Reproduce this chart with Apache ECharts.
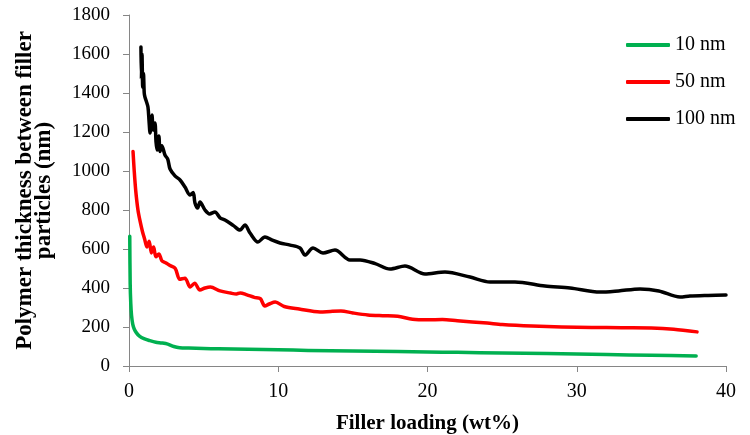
<!DOCTYPE html>
<html>
<head>
<meta charset="utf-8">
<script src="https://cdn.jsdelivr.net/npm/echarts@6/dist/echarts.min.js"></script>
<style>
  html, body { margin: 0; padding: 0; background: #fff; }
  #chart { width: 750px; height: 435px; }
</style>
</head>
<body>
<div id="chart"></div>
<script>
// Polymer thickness between filler particles vs filler loading, per particle size
const seriesNames = ['10 nm', '50 nm', '100 nm'];
const xTicks = [0, 10, 20, 30, 40];
const yTicks = [0, 200, 400, 600, 800, 1000, 1200, 1400, 1600, 1800];

const load10 = [0.05, 0.08, 0.12, 0.17, 0.25, 0.35, 0.5, 0.7, 1.0, 1.4, 1.8, 2.2, 2.6, 3.0, 3.4, 4, 5, 6, 8, 10, 12, 15, 18, 20, 22, 25, 28, 30, 32, 35, 38];
const thick10 = [665, 420, 320, 260, 215, 190, 170, 153, 140, 130, 122, 118, 112, 100, 94, 92, 90, 88, 86, 83, 80, 77, 74, 72, 70, 67, 64, 61, 59, 55, 51];

const load50 = [0.27, 0.35, 0.45, 0.6, 0.75, 0.9, 1.05, 1.2, 1.35, 1.5, 1.65, 1.8, 2.0, 2.2, 2.45, 2.75, 3.1, 3.4, 3.75, 4.1, 4.4, 4.75, 5.1, 5.45, 6.1, 6.8, 7.2, 7.45, 7.9, 8.4, 8.8, 9.1, 9.4, 9.8, 10.4, 11.4, 12.8, 13.5, 14.2, 15, 16, 17, 18, 19, 20, 21, 22, 24, 25, 27, 29, 31, 33, 35, 36.5, 38.06];
const thick50 = [1100, 1000, 900, 800, 740, 690, 650, 610, 640, 580, 610, 560, 575, 540, 530, 515, 500, 445, 450, 405, 425, 390, 400, 405, 385, 374, 369, 375, 365, 352, 345, 308, 318, 328, 305, 292, 277, 280, 282, 272, 262, 258, 255, 240, 237, 238, 232, 220, 213, 205, 200, 198, 196, 195, 189, 175];

const load100 = [0.8, 0.83, 0.87, 0.92, 0.97, 1.02, 1.07, 1.15, 1.27, 1.34, 1.41, 1.48, 1.54, 1.62, 1.74, 1.81, 1.88, 2.0, 2.08, 2.2, 2.41, 2.6, 2.75, 3.08, 3.42, 3.75, 4.09, 4.3, 4.42, 4.6, 4.76, 5.09, 5.4, 5.76, 6.1, 6.43, 7.0, 7.44, 7.77, 8.11, 8.64, 9.11, 9.6, 10.12, 10.8, 11.46, 11.79, 12.33, 13.0, 13.8, 14.8, 15.48, 16.5, 17.49, 18.49, 19.83, 21.17, 22.85, 24.19, 25.86, 27.87, 29.55, 31.56, 32.8, 34.24, 35.5, 36.92, 37.59, 38.8, 40];
const thick100 = [1636, 1470, 1600, 1430, 1500, 1400, 1379, 1360, 1328, 1260, 1195, 1250, 1287, 1210, 1246, 1150, 1108, 1180, 1100, 1130, 1082, 1060, 1010, 975, 954, 918, 877, 890, 836, 810, 841, 800, 780, 790, 760, 749, 720, 697, 723, 682, 636, 662, 645, 631, 620, 605, 569, 605, 579, 595, 544, 544, 525, 497, 513, 472, 482, 456, 431, 431, 410, 400, 379, 385, 395, 385, 354, 359, 362, 364];

const colors = ['#00B050', '#FF0000', '#000000'];
const serif = 'Liberation Serif';
const axisGray = '#868686';

function pairs(xs, ys) { return xs.map((x, i) => [x, ys[i]]); }
const seriesData = [pairs(load10, thick10), pairs(load50, thick50), pairs(load100, thick100)];

const chart = echarts.init(document.getElementById('chart'), null, { renderer: 'canvas' });
chart.setOption({
  animation: false,
  backgroundColor: '#ffffff',
  grid: { left: 129, right: 24, top: 15, bottom: 69, containLabel: false, outerBoundsMode: 'none' },
  legend: {
    orient: 'vertical',
    left: 626,
    top: 35,
    padding: 0,
    itemGap: 17,
    itemWidth: 44,
    itemHeight: 4,
    icon: 'roundRect',
    data: seriesNames,
    textStyle: { fontFamily: serif, fontSize: 20, color: '#000' }
  },
  xAxis: {
    type: 'value',
    min: xTicks[0],
    max: xTicks[xTicks.length - 1],
    interval: xTicks[1] - xTicks[0],
    name: 'Filler loading (wt%)',
    nameLocation: 'middle',
    nameGap: 47,
    nameTextStyle: { fontFamily: serif, fontSize: 21, fontWeight: 'bold', color: '#000' },
    axisLine: { show: true, lineStyle: { color: axisGray, width: 1 } },
    axisTick: { show: true, length: 6, lineStyle: { color: axisGray } },
    axisLabel: { fontFamily: serif, fontSize: 20, color: '#000', margin: 16 },
    splitLine: { show: false }
  },
  yAxis: {
    type: 'value',
    min: yTicks[0],
    max: yTicks[yTicks.length - 1],
    interval: yTicks[1] - yTicks[0],
    name: 'Polymer thickness between filler\nparticles (nm)',
    nameLocation: 'middle',
    nameRotate: 90,
    nameGap: 75,
    nameTextStyle: { fontFamily: serif, fontSize: 23, fontWeight: 'bold', color: '#000', lineHeight: 19, align: 'center' },
    axisLine: { show: true, lineStyle: { color: axisGray, width: 1 } },
    axisTick: { show: true, length: 6, lineStyle: { color: axisGray } },
    axisLabel: { fontFamily: serif, fontSize: 19, color: '#000', margin: 19, formatter: v => String(v) },
    splitLine: { show: false }
  },
  series: seriesNames.map((name, i) => ({
    name: name,
    type: 'line',
    data: seriesData[i],
    showSymbol: false,
    symbol: 'none',
    smooth: 0.3,
    color: colors[i],
    lineStyle: { color: colors[i], width: 3.5, cap: 'round', join: 'round' },
    z: 3 - i
  }))
});
</script>
</body>
</html>
